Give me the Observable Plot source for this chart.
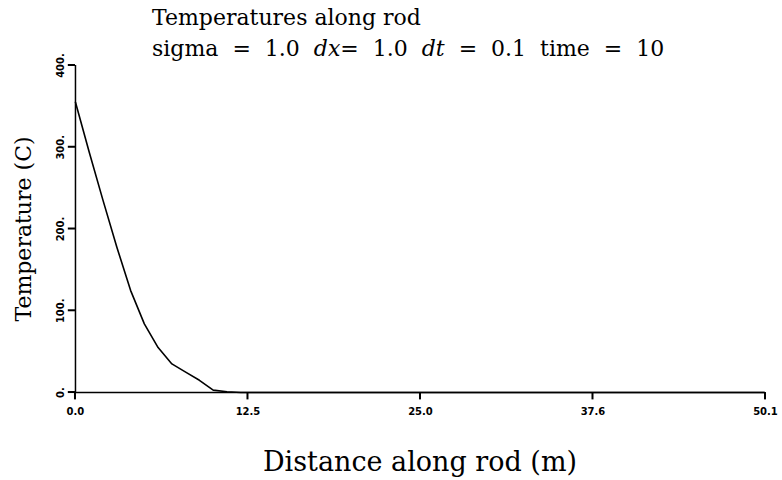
<!DOCTYPE html>
<html>
<head>
<meta charset="utf-8">
<script src="https://cdn.jsdelivr.net/npm/d3@7"></script>
<script src="https://cdn.jsdelivr.net/npm/@observablehq/plot@0.6"></script>
<style>
  html, body { margin: 0; padding: 0; background: #fff; }
  #wrap { position: relative; width: 782px; height: 480px; overflow: hidden; }
  .t { position: absolute; font-family: "DejaVu Serif", serif; color: #000; white-space: nowrap; line-height: 1; }
</style>
</head>
<body>
<div id="wrap">
  <div class="t" id="title1" style="left:152px; top:7px; font-size:22px;">Temperatures along rod</div>
  <div class="t" id="title2" style="left:152px; top:38px; font-size:22px; word-spacing:7px;">sigma = 1.0 <i>dx</i>= 1.0 <i>dt</i> = 0.1 time = 10</div>
  <div class="t" id="xlab" style="left:420px; top:448px; font-size:27px; transform: translateX(-50%);">Distance along rod (m)</div>
  <div class="t" id="ylab" style="left:24px; top:229px; font-size:22px; transform: translate(-50%,-50%) rotate(-90deg); transform-origin: center;">Temperature (C)</div>
</div>
<script>
const distance = [0,1,2,3,4,5,6,7,8,9,10,11,12,13,14,15,16,17,18,19,20,21,22,23,24,25,26,27,28,29,30,31,32,33,34,35,36,37,38,39,40,41,42,43,44,45,46,47,48,49,50];
const temperature = [355,294,235,178,125,84,55,35,25,15,3,1,0,0,0,0,0,0,0,0,0,0,0,0,0,0,0,0,0,0,0,0,0,0,0,0,0,0,0,0,0,0,0,0,0,0,0,0,0,0,0];
const xTicks = [0, 12.525, 25.05, 37.575, 50.1];
const xTickLabels = ["0.0", "12.5", "25.0", "37.6", "50.1"];
const yTicks = [0, 100, 200, 300, 400];
const yTickLabels = ["0.", "100.", "200.", "300.", "400."];

const data = distance.map((d, i) => ({x: d, y: temperature[i]}));
const xTickData = xTicks.map(v => ({v, lo: 0, hi: -9}));
const yTickData = yTicks.map(v => ({v, lo: 0, hi: -0.52}));

// frame widened slightly left and down so the outward tick marks sit inside it
const chart = Plot.plot({
  width: 782,
  height: 480,
  marginLeft: 67.4,
  marginRight: 17,
  marginTop: 65,
  marginBottom: 80.6,
  style: {background: "transparent", color: "#000", overflow: "visible"},
  x: {domain: [-0.55, 50.1]},
  y: {domain: [-9, 400]},
  marks: [
    Plot.axisX({ticks: xTicks, tickFormat: (d, i) => xTickLabels[i], tickSize: 0, tickPadding: 7.6,
      fontSize: 10, fontWeight: "bold", fontFamily: "DejaVu Sans", label: null}),
    Plot.axisY({ticks: yTicks, tickFormat: (d, i) => yTickLabels[i], tickSize: 0, tickPadding: 4.4,
      tickRotate: -90, fontSize: 10, fontWeight: "bold", fontFamily: "DejaVu Sans", label: null}),
    Plot.rect(xTickData, {x1: "v", x2: "v", y1: "lo", y2: "hi", insetLeft: -1, insetRight: -1, fill: "#000"}),
    Plot.rect(yTickData, {y1: "v", y2: "v", x1: "lo", x2: "hi", insetTop: -1, insetBottom: -1, fill: "#000"}),
    Plot.ruleX([0], {y1: 0, y2: 400, stroke: "#000", strokeWidth: 1.5}),
    Plot.ruleY([0], {x1: 0, x2: 50.1, stroke: "#000", strokeWidth: 1.5}),
    Plot.line(data, {x: "x", y: "y", stroke: "#000", strokeWidth: 1.6})
  ]
});
chart.style.position = "absolute";
chart.style.left = "0px";
chart.style.top = "0px";
document.getElementById("wrap").prepend(chart);
</script>
</body>
</html>
